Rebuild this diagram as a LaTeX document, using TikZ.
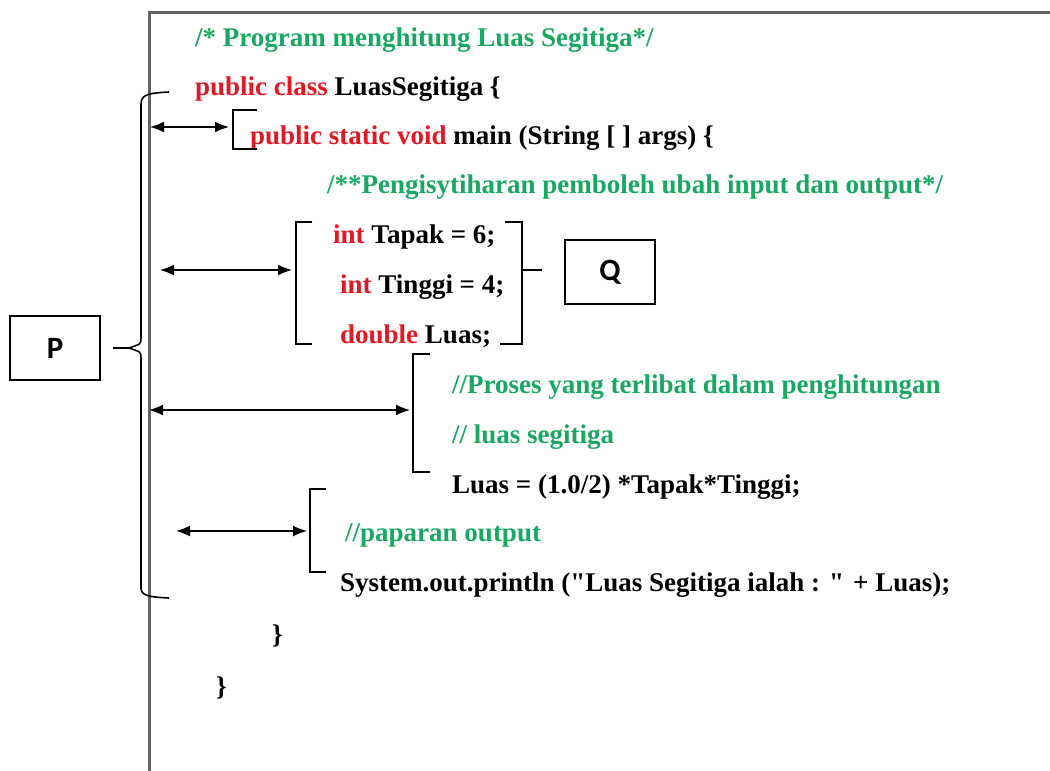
\documentclass[tikz,border=0pt]{standalone}
\usepackage{fontspec}
\setmainfont{Liberation Serif}
\setsansfont{Carlito}
\usetikzlibrary{positioning,arrows.meta}

\definecolor{kwred}{RGB}{228,24,36}
\definecolor{cmtgreen}{RGB}{24,168,96}
\definecolor{framegray}{RGB}{100,100,100}

\tikzset{
  code/.style={anchor=west, inner sep=0pt, font=\fontsize{27}{30}\selectfont\bfseries},
  cmt/.style={code, text=cmtgreen},
  labelbox/.style={rectangle, draw, line width=1.2pt, minimum width=90pt, minimum height=64pt, font=\fontsize{31}{34}\selectfont\sffamily\bfseries},
  brk/.style={line width=1.6pt},
  pointer/.style={line width=1.6pt, {Latex[length=14pt,width=11pt]}-{Latex[length=14pt,width=11pt]}}
}
\newcommand{\kw}[1]{\textcolor{kwred}{#1}}

\begin{document}
\begin{tikzpicture}[x=1pt, y=-1pt]
        \useasboundingbox (0,0) rectangle (1050,771);

        % frame of the listing
        \draw[framegray, line width=3pt] (1050,12) -- (149,12) -- (149,771);

        % code lines
        \node[cmt] (c1) at (195,40) {/* Program menghitung Luas Segitiga*/};
        \node[code] (l1) at (195,89) {\kw{public class} LuasSegitiga \{};
        \node[code] (l2) at (250,138) {\kw{public static void} main (String [ ] args) \{};
        \node[cmt] (c2) at (327,187) {/**Pengisytiharan pemboleh ubah input dan output*/};
        \node[code] (v1) at (333,237) {\kw{int} Tapak = 6;};
        \node[code] (v2) at (340,287) {\kw{int} Tinggi = 4;};
        \node[code] (v3) at (340,336) {\kw{double} Luas;};
        \node[cmt] (c3) at (452,387) {//Proses yang terlibat dalam penghitungan};
        \node[cmt] (c4) at (452,437) {// luas segitiga};
        \node[code] (l3) at (452,487) {Luas = (1.0/2) *Tapak*Tinggi;};
        \node[cmt] (c5) at (345,535) {//paparan output};
        \node[code] (l4) at (340,585) {System.out.println (\textquotedbl Luas Segitiga ialah : \textquotedbl{} + Luas);};
        \node[code] (e1) at (272,636) {\}};
        \node[code] (e2) at (216,688) {\}};

        % labels
        \node[labelbox] (P) at (55,348) {P};
        \node[labelbox] (Q) at (610,272) {Q};

        % big brace
        \coordinate (pTip) at (129,348);
        \coordinate (pEnd) at (113,348);
        \draw[brk] (169,92) .. controls (150,93) and (141,94) .. (141,104)
                -- (141,338) .. controls (141,344) .. (pTip)
                .. controls (141,352) .. (141,358)
                -- (141,588) .. controls (141,596) and (150,597) .. (169,598);
        \draw[brk] (pEnd) -- (pTip);

        % brackets
        \draw[brk] (257,110) -- (233,110) -- (233,149) -- (257,149);
        \draw[brk] (312,222) -- (296,222) -- (296,344) -- (312,344);
        \draw[brk] (505,222) -- (522,222) -- (522,344) -- (500,344);
        \draw[brk] (430,354) -- (413,354) -- (413,472) -- (430,472);
        \draw[brk] (326,489) -- (310,489) -- (310,572) -- (326,572);
        \coordinate (qTick) at (522,270);
        \coordinate (qEnd) at (542,270);
        \draw[brk] (qTick) -- (qEnd);

        % arrows
        \coordinate (a1L) at (150,127);
        \coordinate (a1R) at (229,127);
        \coordinate (a2L) at (160,270);
        \coordinate (a2R) at (292,270);
        \coordinate (a3L) at (149,410);
        \coordinate (a3R) at (410,410);
        \coordinate (a4L) at (176,531);
        \coordinate (a4R) at (307,531);
        \draw[pointer] (a1L) -- (a1R);
        \draw[pointer] (a2L) -- (a2R);
        \draw[pointer] (a3L) -- (a3R);
        \draw[pointer] (a4L) -- (a4R);
      \end{tikzpicture}
\end{document}
